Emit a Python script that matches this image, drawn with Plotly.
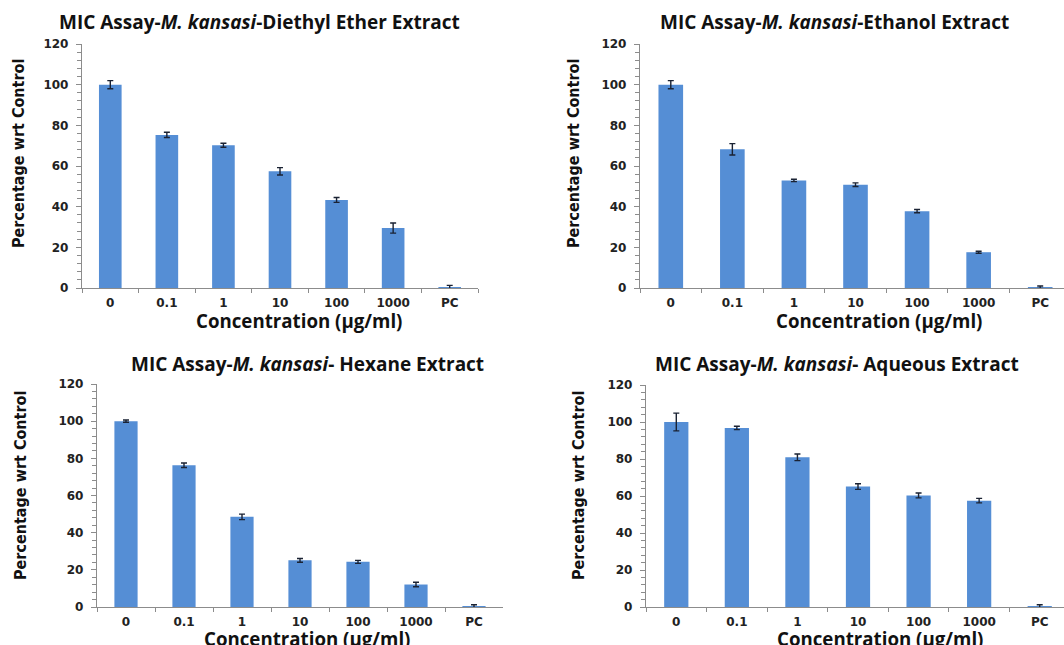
import plotly.graph_objects as go

W, H = 1064, 645

categories = ["0", "0.1", "1", "10", "100", "1000", "PC"]

ether_vals = [100, 75.3, 70.2, 57.4, 43.3, 29.5, 0.3]
ether_err = [2.0, 1.3, 1.0, 1.8, 1.2, 2.5, 1.0]

ethanol_vals = [100, 68.2, 52.9, 50.8, 37.8, 17.6, 0.4]
ethanol_err = [2.0, 2.8, 0.6, 0.9, 0.8, 0.5, 0.6]

hexane_vals = [100, 76.3, 48.5, 25.1, 24.3, 12.1, 0.2]
hexane_err = [0.6, 1.2, 1.5, 1.0, 0.8, 1.2, 1.0]

aqueous_vals = [100, 96.8, 80.9, 65.1, 60.3, 57.5, 0.2]
aqueous_err = [4.8, 0.9, 1.8, 1.5, 1.3, 1.2, 1.0]

titles = [
    "MIC Assay-<i>M. kansasi</i>-Diethyl Ether Extract",
    "MIC Assay-<i>M. kansasi</i>-Ethanol Extract",
    "MIC Assay-<i>M. kansasi</i>- Hexane Extract",
    "MIC Assay-<i>M. kansasi</i>- Aqueous Extract",
]
x_title = "Concentration (µg/ml)"
y_title = "Percentage wrt Control"

BAR = "#558ED5"
ERR = "#1a2233"
AXIS = "#8c8c8c"
NARROW = "Liberation Sans Narrow, DejaVu Sans Condensed, Arial Narrow, Liberation Sans, sans-serif"

# panel geometry in pixels: x0, x_end(axis full), ytop(120), ybottom(0)
panels = [
    dict(x0=82, x1=478, yt=44, yb=288, vals=ether_vals, err=ether_err,
         tx=259, ty=22, xtx=299, xty=321, ytx=18, yty=154),
    dict(x0=640, x1=1071, yt=44, yb=288, vals=ethanol_vals, err=ethanol_err,
         tx=834, ty=22, xtx=879, xty=321, ytx=573, yty=154),
    dict(x0=97, x1=503, yt=384, yb=607, vals=hexane_vals, err=hexane_err,
         tx=307, ty=364, xtx=307, xty=638, ytx=20, yty=486),
    dict(x0=646, x1=1070, yt=385, yb=607, vals=aqueous_vals, err=aqueous_err,
         tx=837, ty=364, xtx=880, xty=638, ytx=578, yty=486),
]

fig = go.Figure()
annotations = []

for i, p in enumerate(panels):
    n = i + 1
    xa = "x" if n == 1 else f"x{n}"
    ya = "y" if n == 1 else f"y{n}"
    fig.add_trace(go.Bar(
        x=categories, y=p["vals"], xaxis=xa, yaxis=ya,
        marker=dict(color=BAR, line=dict(width=0)),
        width=0.4,
        error_y=dict(type="data", array=p["err"], color=ERR, thickness=1.4, width=3),
        showlegend=False,
    ))
    # clip at page edge
    x1 = min(p["x1"], W)
    span = 7 * (x1 - p["x0"]) / (p["x1"] - p["x0"])
    xrange = [-0.5, -0.5 + span]
    xkey = "xaxis" if n == 1 else f"xaxis{n}"
    ykey = "yaxis" if n == 1 else f"yaxis{n}"
    fig.update_layout({
        xkey: dict(
            domain=[p["x0"] / W, x1 / W], anchor=ya, range=xrange, automargin=False,
            type="category", tickson="boundaries", ticks="outside", ticklen=4,
            tickcolor=AXIS, showline=True, linecolor=AXIS, linewidth=1.3,
            showgrid=False, zeroline=False,
            tickfont=dict(family="DejaVu Sans", size=12, color="#222222", weight="bold"),
            ticklabelstandoff=3,
        ),
        ykey: dict(
            domain=[1 - p["yb"] / H, 1 - p["yt"] / H], anchor=xa, range=[0, 120],
            automargin=False,
            dtick=20, ticks="outside", ticklen=5, tickcolor=AXIS,
            showline=True, linecolor=AXIS, linewidth=1.3, showgrid=False, zeroline=False,
            minor=dict(dtick=4, ticks="outside", ticklen=4, tickcolor=AXIS),
            tickfont=dict(family="DejaVu Sans", size=12, color="#222222", weight="bold"),
            ticklabelstandoff=5,
        ),
    })
    annotations.append(dict(
        text=titles[i], x=p["tx"] / W, y=1 - p["ty"] / H, xref="paper", yref="paper",
        xanchor="center", yanchor="middle", showarrow=False,
        font=dict(family="Open Sans", size=19, color="#111111", weight="bold"),
    ))
    annotations.append(dict(
        text=x_title, x=p["xtx"] / W, y=1 - p["xty"] / H, xref="paper", yref="paper",
        xanchor="center", yanchor="middle", showarrow=False,
        font=dict(family="Open Sans", size=18.7, color="#111111", weight="bold"),
    ))
    annotations.append(dict(
        text=y_title, x=p["ytx"] / W, y=1 - p["yty"] / H, xref="paper", yref="paper",
        xanchor="center", yanchor="middle", showarrow=False, textangle=-90,
        font=dict(family=NARROW, size=16, color="#111111", weight="bold"),
    ))

fig.update_layout(
    width=W, height=H, margin=dict(l=0, r=0, t=0, b=0),
    paper_bgcolor="white", plot_bgcolor="white",
    annotations=annotations, bargap=0.6,
)

fig.write_html(
    "out.html",
    config={"displayModeBar": False},
    post_script="document.body.style.margin='0';document.body.style.overflow='hidden';",
)
